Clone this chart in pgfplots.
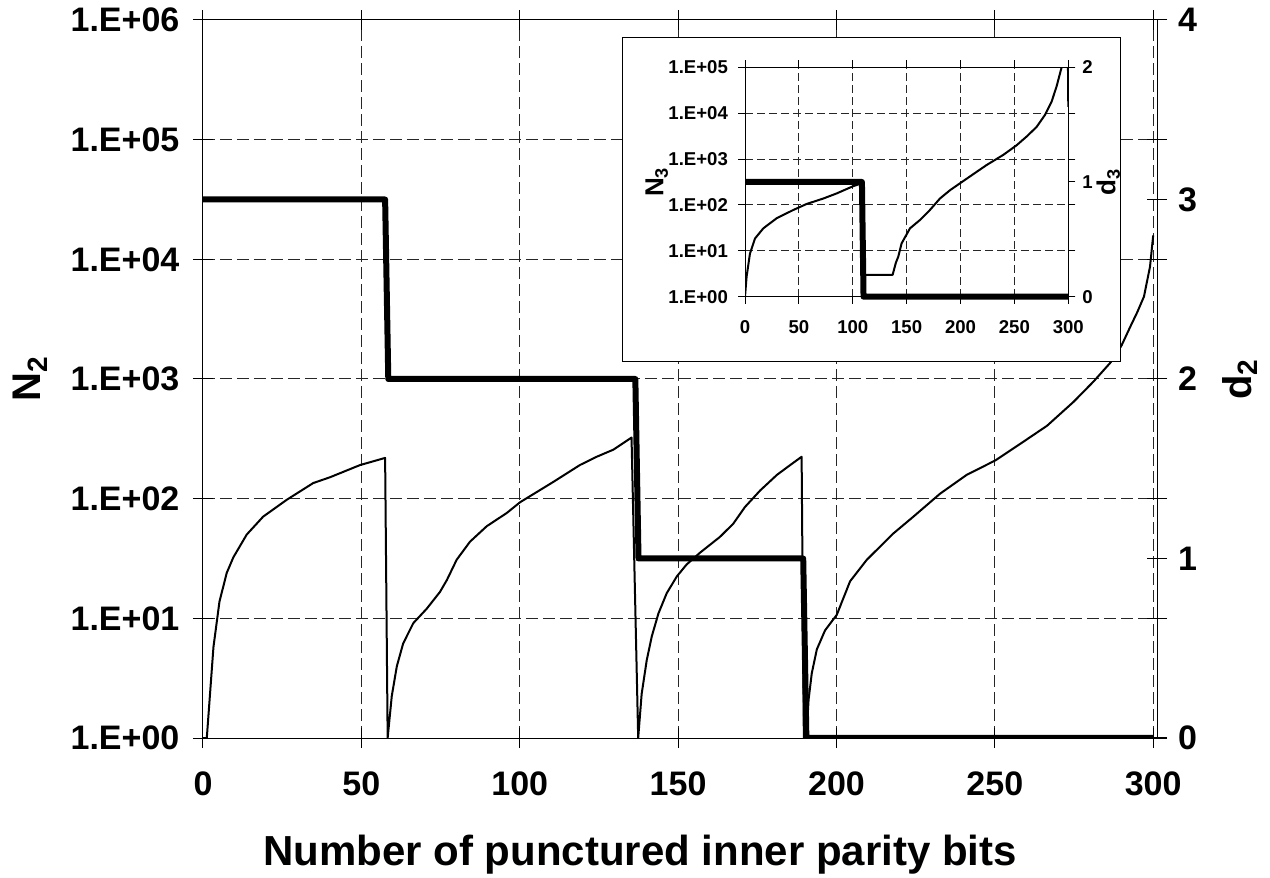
\documentclass[border=0pt]{standalone}
\usepackage{fontspec}
\setmainfont{Liberation Sans}
\usepackage{pgfplots}
\pgfplotsset{compat=1.18}

\pgfplotstableread{
x y
0 1
1.2 1
3.3 5.75
5.2 13.8
7.5 24.0
9.6 32.4
13.8 50.1
19.0 70.8
26.4 97.7
34.8 135
40.1 151
49.6 191
57.5 219
58.3 1
59.6 2.24
61.2 3.98
63.2 6.17
66.4 9.12
70.6 12.0
74.8 16.6
77.0 20.9
80.1 30.9
84.3 43.7
89.6 58.9
95.9 75.9
100.1 93.3
110.6 138
119.0 191
124.3 224
129.6 257
135.3 324
137.4 1
138.5 2.34
140.1 4.47
141.7 7.08
143.8 11.0
146.4 16.2
149.6 22.4
152.7 28.2
157.0 35.5
163.2 47.9
167.4 61.7
171.1 85.1
175.9 117
181.2 158
185.4 191
189.0 224
189.7 1
190.5 1
191.2 2.09
192.2 3.47
193.8 5.50
196.4 7.94
200.1 10.7
204.3 20.4
209.6 30.9
218.0 51.3
224.3 70.8
232.7 110
241.1 158
250.2 209
258.1 288
266.5 407
274.9 646
281.2 955
286.6 1380
290 1905
293 2818
295 3631
297.1 4898
299 8710
300 15849
}\NtwoData

\pgfplotstableread{
x d
0 3
57.5 3
58.5 2
136.5 2
137.5 1
189.5 1
190.5 0
300 0
}\DtwoData

\pgfplotstableread{
x y
0 1
1.5 2.75
4.6 8.71
9.3 18.6
17.0 30.9
29.4 51.3
44.8 77.6
57.2 105
72.7 138
85.0 178
100.5 257
108.2 295
110 3
137 3
140 5.5
142.2 7.4
145.3 14.5
153.1 30.9
162.3 46.8
171.6 77.6
180.9 138
190.2 209
199.4 295
211.8 468
224.2 741
239.6 1230
252 1995
261.3 3090
270.6 5012
278.3 9120
284.5 17783
289.1 38019
293.8 100000
299 10000000
300 13800
}\NthreeData

\pgfplotstableread{
x d
0 1
108.5 1
110 0
300 0
}\DthreeData

\begin{document}
\begin{tikzpicture}
\path[use as bounding box] (-101.5pt,-70pt) rectangle (533.5pt,369pt);

% ---------------- main axis (left, log) ----------------
\begin{axis}[
  at={(0pt,0pt)}, anchor=south west,
  scale only axis, width=477pt, height=359pt,
  xmin=0, xmax=301.2,
  ymode=log, ymin=1, ymax=1000000,
  xtick={0,50,100,150,200,250,300},
  ytick={1,10,100,1000,10000,100000,1000000},
  yticklabels={1.E+00,1.E+01,1.E+02,1.E+03,1.E+04,1.E+05,1.E+06},
  yminorticks=false,
  grid=major,
  major grid style={black!85, line width=0.5pt, dash pattern=on 6pt off 2.5pt},
  tick align=center, major tick length=10pt,
  tick style={black, line width=0.5pt},
  axis line style={black, line width=0.5pt},
  /pgf/number format/assume math mode=true,
  ticklabel style={font=\fontsize{17}{20}\selectfont\bfseries},
  xticklabel style={yshift=-8.2pt},
  yticklabel style={xshift=-3.3pt},
  xlabel={Number of punctured inner parity bits},
  xlabel style={at={(axis description cs:0.458,-0.163)}, anchor=center, font=\fontsize{21}{24}\selectfont\bfseries},
  ylabel={N\textsubscript{2}},
  ylabel style={at={(axis description cs:-0.181,0.5)}, anchor=center, rotate=0, font=\fontsize{20}{24}\selectfont\bfseries},
]
\addplot[black, line width=1pt, line join=round] table[x=x,y=y] {\NtwoData};
\end{axis}

% ---------------- main axis (right, d2) ----------------
\begin{axis}[
  at={(0pt,0pt)}, anchor=south west,
  scale only axis, width=477pt, height=359pt,
  xmin=0, xmax=301.2, ymin=0, ymax=4,
  axis x line=none, axis y line*=right,
  ytick={0,1,2,3,4},
  tick align=center, major tick length=10pt,
  tick style={black, line width=0.5pt},
  axis line style={black, line width=0.5pt},
  /pgf/number format/assume math mode=true,
  ticklabel style={font=\fontsize{17}{20}\selectfont\bfseries},
  yticklabel style={xshift=2pt},
  ylabel={d\textsubscript{2}},
  ylabel style={at={(axis description cs:1.087,0.5)}, anchor=center, rotate=0, font=\fontsize{20}{24}\selectfont\bfseries},
]
\addplot[black, line width=3pt, line join=round] table[x=x,y=d] {\DtwoData};
\end{axis}

% ---------------- inset ----------------
\fill[white] (209.5pt,188pt) rectangle (458.5pt,350pt);
\draw[black, line width=0.5pt] (209.5pt,188pt) rectangle (458.5pt,350pt);

\begin{axis}[
  at={(271pt,220.65pt)}, anchor=south west,
  scale only axis, width=161.65pt, height=114.7pt,
  xmin=0, xmax=300,
  ymode=log, ymin=1, ymax=100000,
  xtick={0,50,100,150,200,250,300},
  ytick={1,10,100,1000,10000,100000},
  yticklabels={1.E+00,1.E+01,1.E+02,1.E+03,1.E+04,1.E+05},
  yminorticks=false,
  grid=major,
  major grid style={black!85, line width=0.5pt, dash pattern=on 4pt off 2pt},
  tick align=outside, major tick length=3.5pt,
  tick style={black, line width=0.5pt},
  axis line style={black, line width=0.5pt},
  /pgf/number format/assume math mode=true,
  ticklabel style={font=\fontsize{9.3}{11}\selectfont\bfseries},
  xticklabel style={yshift=-5pt},
  yticklabel style={xshift=-1.5pt},
  ylabel={N\textsubscript{3}},
  ylabel style={at={(axis description cs:-0.273,0.5)}, anchor=center, rotate=0, font=\fontsize{13}{15}\selectfont\bfseries},
]
\addplot[black, line width=1pt, line join=round] table[x=x,y=y] {\NthreeData};
\end{axis}

\begin{axis}[
  at={(271pt,220.65pt)}, anchor=south west,
  scale only axis, width=161.65pt, height=114.7pt,
  xmin=0, xmax=300, ymin=0, ymax=2,
  axis x line=none, axis y line*=right,
  ytick={0,1,2},
  clip=false,
  tick align=outside, major tick length=3.5pt,
  tick style={black, line width=0.5pt},
  axis line style={black, line width=0.5pt},
  /pgf/number format/assume math mode=true,
  ticklabel style={font=\fontsize{9.3}{11}\selectfont\bfseries},
  ylabel={d\textsubscript{3}},
  ylabel style={at={(axis description cs:1.124,0.5)}, anchor=center, rotate=0, font=\fontsize{13}{15}\selectfont\bfseries},
]
\addplot[black, line width=3pt, line join=round] table[x=x,y=d] {\DthreeData};
\end{axis}
\end{tikzpicture}
\end{document}
